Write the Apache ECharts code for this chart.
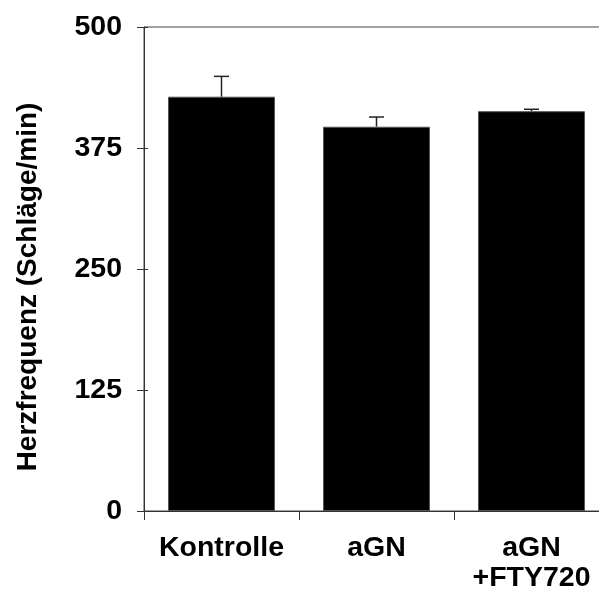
<!DOCTYPE html>
<html>
<head>
<meta charset="utf-8">
<script src="https://cdn.jsdelivr.net/npm/echarts@6/dist/echarts.min.js"></script>
<style>
html,body{margin:0;padding:0;background:#fff;}
#chart{width:599px;height:596px;}
</style>
</head>
<body>
<div id="chart"></div>
<script>
var categories = ['Kontrolle', 'aGN', 'aGN\n+FTY720'];
var meanValues = [428, 397, 413];
var errorValues = [21, 10, 2];
var yTicks = [0, 125, 250, 375, 500];

var FONT = '"Liberation Sans", Arial, Helvetica, sans-serif';
var chart = echarts.init(document.getElementById('chart'));

var errData = meanValues.map(function (v, i) { return [i, v, v + errorValues[i]]; });

chart.setOption({
  animation: false,
  grid: { left: 144, top: 27, width: 465, bottom: 85, outerBoundsMode: 'none', containLabel: false,
    show: true, borderColor: '#444', borderWidth: 1, backgroundColor: 'transparent' },
  xAxis: {
    type: 'category',
    data: categories,
    boundaryGap: true,
    axisLine: { show: true, lineStyle: { color: '#333', width: 1 } },
    axisTick: { show: true, length: 9, alignWithLabel: false, lineStyle: { color: '#333' } },
    axisLabel: { margin: 22, fontFamily: FONT, fontWeight: 'bold', fontSize: 28.5, color: '#000', lineHeight: 30, interval: 0 }
  },
  yAxis: [{
    type: 'value',
    min: 0, max: 500, interval: 125,
    name: 'Herzfrequenz (Schläge/min)',
    nameLocation: 'middle',
    nameGap: 102,
    nameTextStyle: { fontFamily: FONT, fontWeight: 'bold', fontSize: 28, color: '#000', padding: [0, 36, 0, 0] },
    axisLine: { show: true, lineStyle: { color: '#333', width: 1 } },
    axisTick: { show: true, length: 7, lineStyle: { color: '#333' } },
    axisLabel: { margin: 22, fontFamily: FONT, fontWeight: 'bold', fontSize: 28.5, color: '#000',
      customValues: yTicks },
    splitLine: { show: false }
  }, {
    type: 'value',
    min: 0, max: 500, interval: 125,
    position: 'left',
    axisLine: { show: false },
    axisTick: { show: true, inside: true, length: 4, lineStyle: { color: '#333' } },
    axisLabel: { show: false },
    splitLine: { show: false }
  }],
  series: [{
    type: 'bar',
    data: meanValues,
    barWidth: '69%',
    itemStyle: { color: '#000', borderColor: '#555', borderWidth: 1 }
  }, {
    type: 'custom',
    data: errData,
    z: 1,
    renderItem: function (params, api) {
      var i = api.value(0);
      var top = api.coord([i, api.value(2)]);
      var base = api.coord([i, api.value(1)]);
      var hw = 7.5;
      return {
        type: 'group',
        children: [
          { type: 'line', shape: { x1: top[0], y1: base[1], x2: top[0], y2: top[1] }, style: { stroke: '#222', lineWidth: 1.5 } },
          { type: 'line', shape: { x1: top[0] - hw, y1: top[1], x2: top[0] + hw, y2: top[1] }, style: { stroke: '#222', lineWidth: 1.5 } }
        ]
      };
    }
  }]
});
</script>
</body>
</html>
